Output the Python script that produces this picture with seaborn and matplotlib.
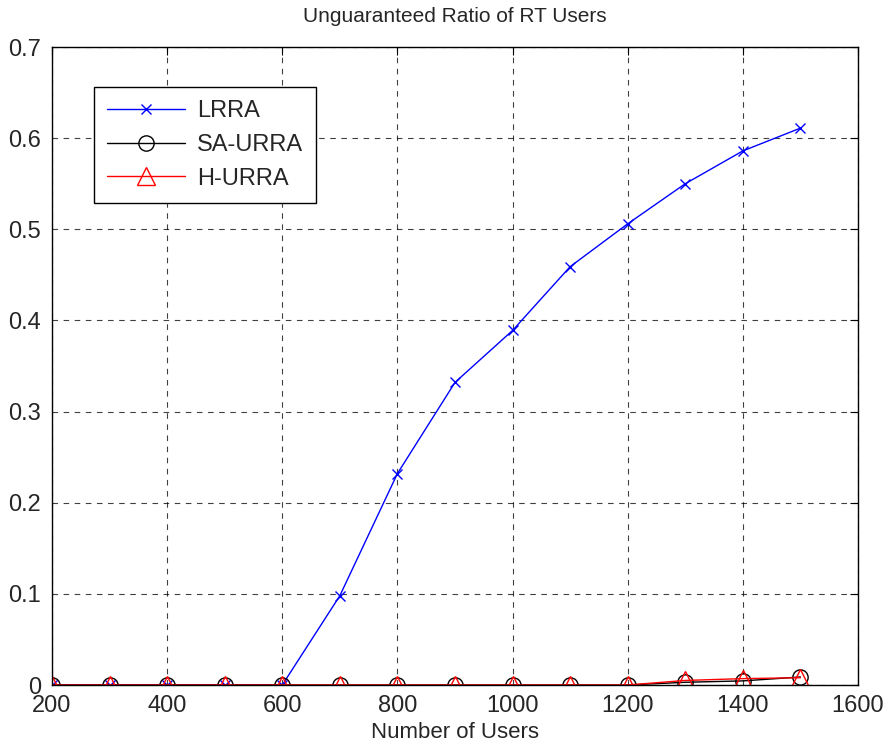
import matplotlib
matplotlib.use("Agg")
import matplotlib.pyplot as plt
import seaborn as sns
import pandas as pd
from matplotlib.ticker import FuncFormatter

users = [200, 300, 400, 500, 600, 700, 800, 900, 1000, 1100, 1200, 1300, 1400, 1500]
lrra = [0, 0, 0, 0, 0, 0.098, 0.232, 0.332, 0.389, 0.459, 0.506, 0.550, 0.586, 0.611]
sa_urra = [0, 0, 0, 0, 0, 0, 0, 0, 0, 0, 0, 0.003, 0.0045, 0.0088]
h_urra = [0, 0, 0, 0, 0, 0, 0, 0, 0, 0, 0, 0.005, 0.007, 0.008]
series_names = ["LRRA", "SA-URRA", "H-URRA"]

sns.set_style("white")
plt.rcParams['font.family'] = ['Liberation Sans', 'DejaVu Sans']

df = pd.DataFrame({"users": users, "LRRA": lrra, "SA-URRA": sa_urra, "H-URRA": h_urra})

fig = plt.figure(figsize=(8.89, 7.53), dpi=100)
ax = fig.add_axes([52/889, 1-685/753, (858-52)/889, (685-47)/753])

styles = {
    "LRRA": dict(color="#0000ff", marker="x", markersize=7, mew=1.0),
    "SA-URRA": dict(color="#000000", marker="o", markersize=11, mfc="none", mew=1.0),
    "H-URRA": dict(color="#ff0000", marker="^", markersize=13, mfc="none", mew=1.0),
}
for name in series_names:
    s = styles[name]
    sns.lineplot(data=df, x="users", y=name, ax=ax, label=name, color=s["color"],
                 marker=s["marker"], markersize=s["markersize"],
                 markerfacecolor=s.get("mfc", s["color"]), markeredgecolor=s["color"],
                 markeredgewidth=s["mew"], linewidth=1.0)

ax.set_xlim(200, 1600)
ax.set_ylim(0, 0.7)
ax.set_xticks(range(200, 1601, 200))
ax.set_yticks([0, 0.1, 0.2, 0.3, 0.4, 0.5, 0.6, 0.7])
ax.yaxis.set_major_formatter(FuncFormatter(lambda v, p: "0" if abs(v) < 1e-9 else f"{v:.1f}"))
ax.tick_params(direction="in", length=6, top=True, right=True, labelsize=17, color="black")
ax.tick_params(axis="x", pad=7)
ax.tick_params(axis="y", pad=8)
ax.grid(True, linestyle=(0, (5, 5)), color="black", linewidth=0.8, alpha=0.75)
for sp in ax.spines.values():
    sp.set_visible(True)
    sp.set_color("black")
    sp.set_linewidth(1.0)

ax.set_xlabel("Number of Users", fontsize=16, labelpad=4)
ax.set_ylabel("")
ax.set_title("Unguaranteed Ratio of RT Users", fontsize=15, pad=18)

leg = ax.legend(loc="upper left", bbox_to_anchor=(42/806, 1-(87-47)/638), borderaxespad=0,
                fontsize=17, frameon=True, fancybox=False, edgecolor="black", framealpha=1,
                handlelength=3.3, borderpad=0.55, labelspacing=0.5, handletextpad=0.5)
leg.get_frame().set_linewidth(1.0)

fig.savefig("out.png", dpi=100)
